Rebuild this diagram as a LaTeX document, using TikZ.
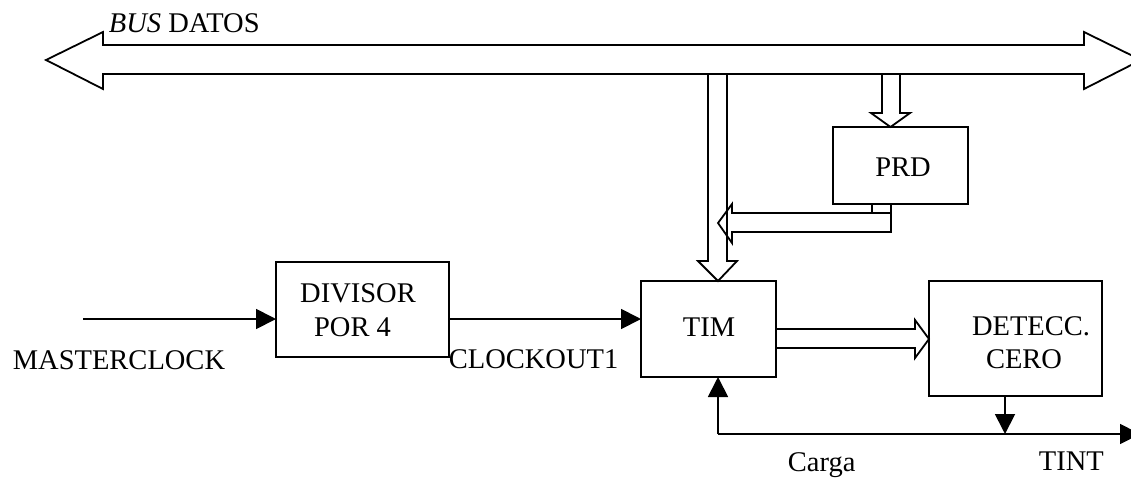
\documentclass[tikz,border=0pt]{standalone}
\usepackage{fontspec}
\setmainfont{Liberation Serif}
\usetikzlibrary{arrows.meta,calc}
\begin{document}
\begin{tikzpicture}[x=1pt,y=-1pt,line width=1.8pt,
  box/.style={draw,anchor=north west,inner sep=0pt,outer sep=0pt},
  lbl/.style={inner sep=0pt,font=\fontsize{28.5}{33}\selectfont},
  sig/.style={-{Triangle[length=20pt,width=20pt]}},
  hollow/.style={line join=miter}]
\clip (0,0) rectangle (1131,477);
\fill[white] (0,0) rectangle (1131,477);

% boxes
\node[box,minimum width=173pt,minimum height=95pt] (div) at (276,262) {};
\node[box,minimum width=135pt,minimum height=96pt] (tim) at (641,281) {};
\node[box,minimum width=173pt,minimum height=115pt] (det) at (929,281) {};
\node[box,minimum width=135pt,minimum height=77pt] (prd) at (833,127) {};

% texts
\node[lbl,anchor=base west] (busl) at (108,32) {\textit{BUS} DATOS};
\node[lbl,anchor=base west] (mcl) at (12,369) {MASTERCLOCK};
\node[lbl,anchor=base west] (col) at (448,368) {CLOCKOUT1};
\node[lbl,anchor=base] (dv1) at (358,302) {DIVISOR};
\node[lbl,anchor=base] (dv2) at (352.5,336) {POR 4};
\node[lbl,anchor=base] (timl) at (709,336) {TIM};
\node[lbl,anchor=base] (dt1) at (1031,335) {DETECC.};
\node[lbl,anchor=base] (dt2) at (1024,368) {CERO};
\node[lbl,anchor=base] (prdl) at (903,176) {PRD};
\node[lbl,anchor=base west] (cgl) at (787,471) {Carga};
\node[lbl,anchor=base west] (tintl) at (1038,470) {TINT};

% coordinates
\coordinate (mc) at (83,319);
\coordinate (cg) at (718,434);
\coordinate (dx) at (1005,434);
\coordinate (tend) at (1140,434);

% signal arrows
\draw[sig] (mc) -- (mc -| div.west);
\draw[sig] (div.east |- mc) -- (tim.west |- mc);
\draw[sig] (cg) -- (cg |- tim.south);
\draw (cg) -- (dx);
\draw[sig] (dx) -- (tend);
\draw[sig] (dx |- det.south) -- (dx);

% bus
\draw[hollow] (46,60) -- (103,32) -- (103,45) -- (1084,45) -- (1084,32) -- (1141,60)
  -- (1084,89) -- (1084,74) -- (103,74) -- (103,89) -- cycle;

% bus -> TIM
\draw[hollow] (708,74) -- (708,261) -- (698,261) -- (718,281) -- (737,261) -- (727,261) -- (727,74);

% bus -> PRD
\draw[hollow] (882,74) -- (882,113) -- (871,113) -- (890.5,127) -- (910,113) -- (900,113) -- (900,74);

% PRD -> TIM
\draw[hollow] (872,204) -- (872,213) -- (732,213) -- (732,204) -- (718,223) -- (732,243)
  -- (732,232) -- (891,232) -- (891,204);
\draw (872,213) -- (891,213);

% TIM -> DETECC
\draw[hollow] (776,329) -- (915,329) -- (915,320) -- (929,339) -- (915,358) -- (915,348) -- (776,348);
\end{tikzpicture}
\end{document}
